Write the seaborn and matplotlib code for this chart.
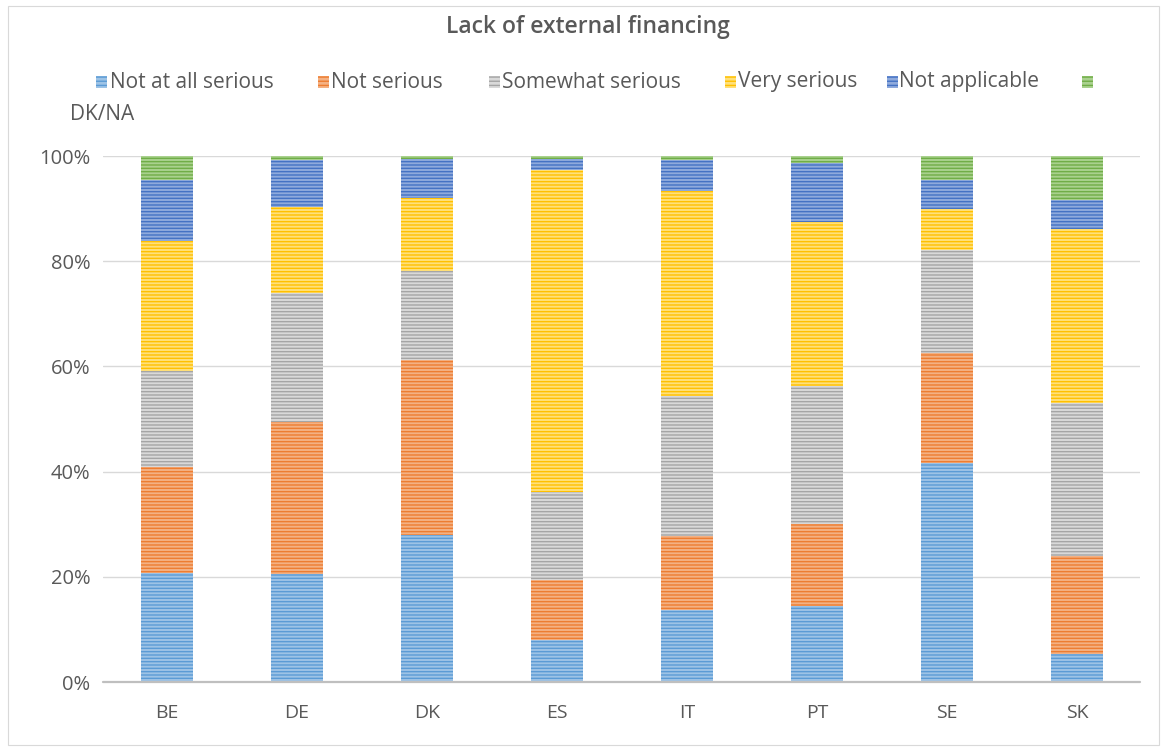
import numpy as np
import pandas as pd
import matplotlib
matplotlib.use("Agg")
import matplotlib.pyplot as plt
from matplotlib.patches import Rectangle
from matplotlib.ticker import PercentFormatter
import seaborn as sns

# Survey shares (%) per country
countries = ["BE", "DE", "DK", "ES", "IT", "PT", "SE", "SK"]
not_at_all_serious = [20.7, 20.6, 27.9, 7.9, 13.7, 14.4, 41.6, 5.4]
not_serious = [20.2, 28.8, 33.3, 11.4, 14.1, 15.7, 20.9, 18.5]
somewhat_serious = [18.3, 24.6, 17.0, 16.8, 26.5, 26.2, 19.6, 29.1]
very_serious = [24.6, 16.3, 13.8, 61.2, 39.1, 31.1, 7.8, 33.2]
not_applicable = [11.6, 9.0, 7.5, 2.2, 5.9, 11.3, 5.5, 5.4]
dk_na = [4.6, 0.7, 0.5, 0.5, 0.7, 1.3, 4.6, 8.4]

series_names = ["Not at all serious", "Not serious", "Somewhat serious",
                "Very serious", "Not applicable", "DK/NA"]
fills = ["#9DC3E6", "#F4B183", "#D9D9D9", "#FFE07A", "#8FAADC", "#A9D18E"]
lines = ["#5B9BD5", "#ED7D31", "#A5A5A5", "#FFC000", "#4472C4", "#70AD47"]

sns.set_theme(style="white")
plt.rcParams["font.family"] = ["Open Sans", "DejaVu Sans"]
plt.rcParams["hatch.linewidth"] = 1.0

df = pd.DataFrame({
    series_names[0]: not_at_all_serious,
    series_names[1]: not_serious,
    series_names[2]: somewhat_serious,
    series_names[3]: very_serious,
    series_names[4]: not_applicable,
    series_names[5]: dk_na,
}, index=countries)
shares = df.div(df.sum(axis=1), axis=0)
cum = shares.cumsum(axis=1)

W, H = 1163, 749
fig = plt.figure(figsize=(W / 100, H / 100), dpi=100)
fig.patch.set_facecolor("white")

x0, x1 = 103, 1140
y_top, y_base = 156, 682
ax = fig.add_axes([x0 / W, 1 - y_base / H, (x1 - x0) / W, (y_base - y_top) / H])

text_col = "#595959"
HATCH = "-----"

# stacked 100% bars: draw cumulative totals from the top layer down
for name, fc, lc in reversed(list(zip(series_names, fills, lines))):
    n_before = len(ax.patches)
    sns.barplot(x=countries, y=cum[name].values, color=fc, saturation=1,
                width=0.4, edgecolor=lc, linewidth=0, ax=ax, zorder=2)
    for p in ax.patches[n_before:]:
        p.set_hatch(HATCH)

ax.set_xlim(-0.492, 7.485)
ax.set_ylim(0, 1)
ax.set_yticks(np.arange(0, 1.01, 0.2))
ax.yaxis.set_major_formatter(PercentFormatter(1.0, decimals=0))
ax.grid(axis="y", color="#D9D9D9", linewidth=1.0, zorder=0)
ax.grid(axis="x", visible=False)
ax.set_axisbelow(True)
for s in ax.spines.values():
    s.set_visible(False)
ax.axhline(0, color="#BFBFBF", linewidth=1.6, zorder=3, clip_on=False)
ax.set_xlabel("")
ax.set_ylabel("")
ax.tick_params(axis="y", length=0, pad=9, labelsize=14.5, labelcolor=text_col)
ax.tick_params(axis="x", length=0, pad=16, labelsize=14, labelcolor=text_col)

# title
fig.text(588 / W, 1 - 27 / H, "Lack of external financing", ha="center", va="center",
         fontsize=16.5, fontweight="semibold", color=text_col)

# legend laid out in a wrapped row
marker_w, marker_h = 11, 12
legend_y = 82
items = [(96, 110), (318, 331), (489, 502), (725, 738), (887, 899), (1082, None)]
for (mx, tx), name, fc, lc in zip(items, series_names, fills, lines):
    fig.patches.append(Rectangle((mx / W, 1 - (legend_y + marker_h / 2) / H),
                                 marker_w / W, marker_h / H,
                                 transform=fig.transFigure, facecolor=fc,
                                 edgecolor=lc, linewidth=0, hatch="----"))
    if tx is not None:
        fig.text(tx / W, 1 - legend_y / H, name, ha="left", va="center",
                 fontsize=15, color=text_col)
fig.text(70 / W, 1 - 115 / H, series_names[-1], ha="left", va="center",
         fontsize=15, color=text_col)

# chart area border
fig.patches.append(Rectangle((8 / W, 4 / H), 1151 / W, 739 / H,
                             transform=fig.transFigure, fill=False,
                             edgecolor="#D9D9D9", linewidth=0.8))

fig.savefig("out.png", dpi=100)
